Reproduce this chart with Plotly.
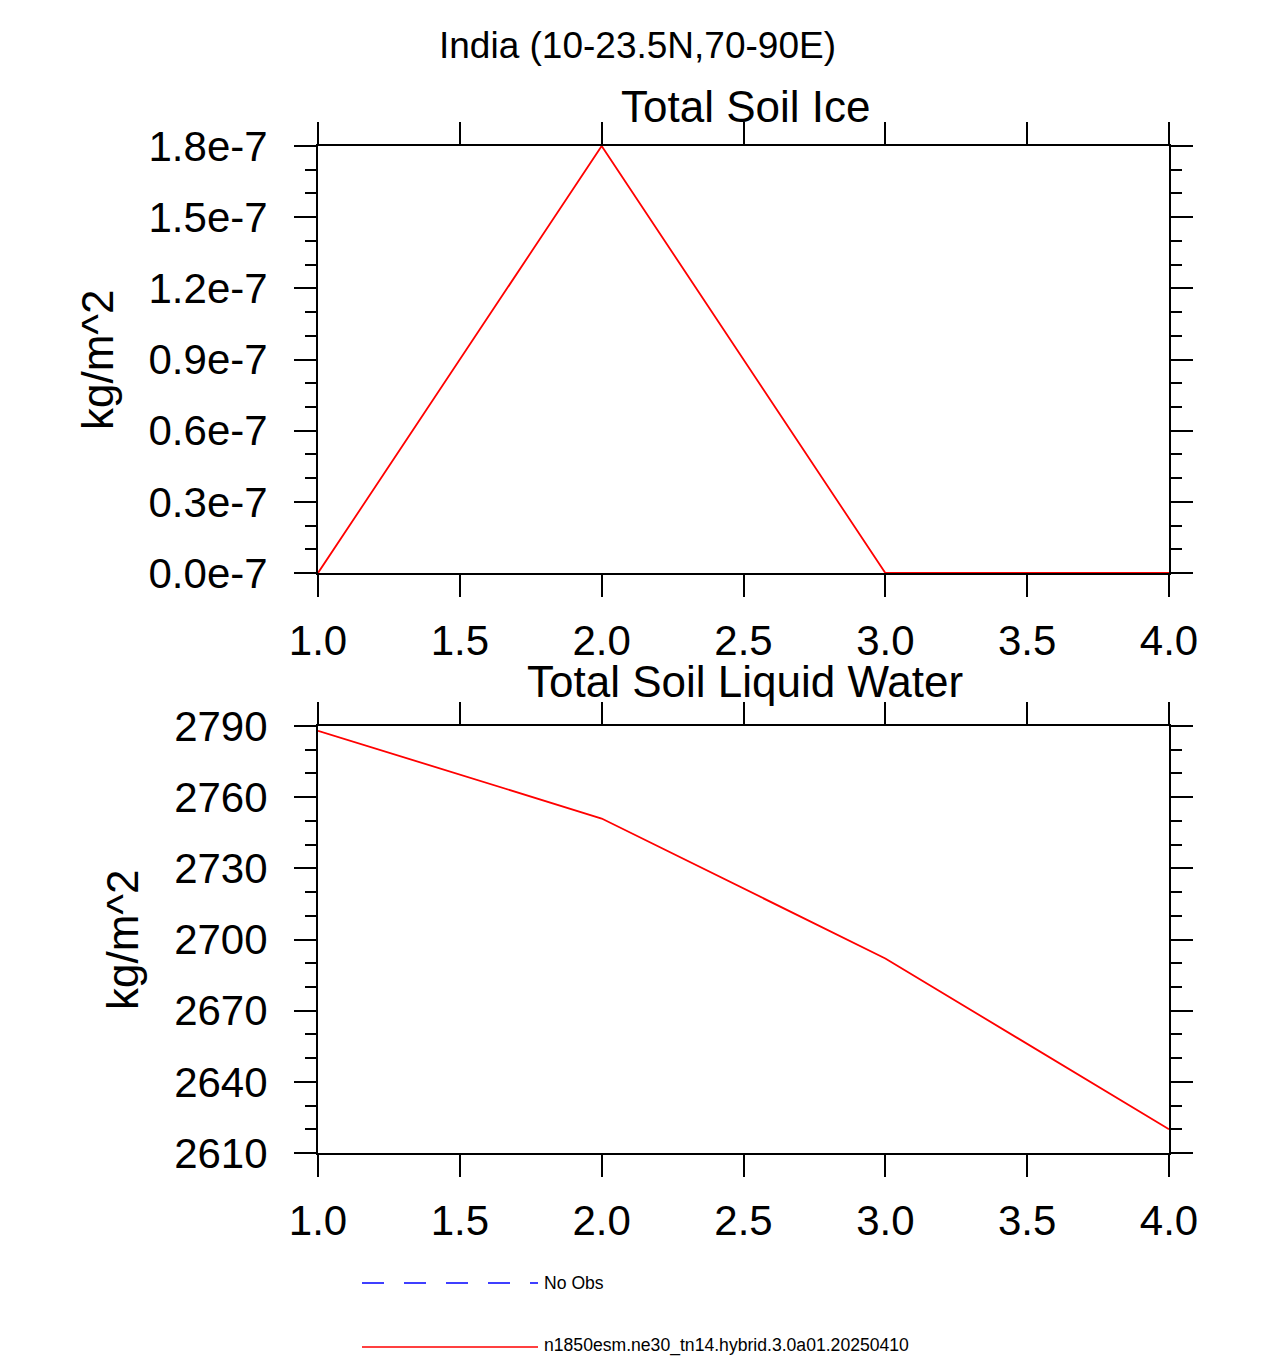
import plotly.graph_objects as go

# ---- data ----
x_vals = [1, 2, 3, 4]
soil_ice = [0.0, 1.8e-7, 0.0, 0.0]
soil_liq = [2788.0, 2751.0, 2692.0, 2620.0]

ice_tickvals = [0.0, 0.3e-7, 0.6e-7, 0.9e-7, 1.2e-7, 1.5e-7, 1.8e-7]
ice_ticktext = ["0.0e-7", "0.3e-7", "0.6e-7", "0.9e-7", "1.2e-7", "1.5e-7", "1.8e-7"]
x_tickvals = [1.0, 1.5, 2.0, 2.5, 3.0, 3.5, 4.0]
x_ticktext = ["1.0", "1.5", "2.0", "2.5", "3.0", "3.5", "4.0"]

main_title = "India (10-23.5N,70-90E)"
panel_titles = ["Total Soil Ice", "Total Soil Liquid Water"]
y_unit = "kg/m^2"
legend_labels = ["No Obs", "n1850esm.ne30_tn14.hybrid.3.0a01.20250410"]

W, H = 1275, 1356
OFF = 8  # page body margin
FONT = "Liberation Sans, Arial, Helvetica, sans-serif"

def px_x(p):
    return (p - OFF) / W

def px_y(p):
    return 1 - (p - OFF) / H

fig = go.Figure()
fig.add_trace(go.Scatter(x=x_vals, y=soil_ice, mode="lines",
                         line=dict(color="red", width=1.8),
                         xaxis="x", yaxis="y", showlegend=False))
fig.add_trace(go.Scatter(x=x_vals, y=soil_liq, mode="lines",
                         line=dict(color="red", width=1.8),
                         xaxis="x2", yaxis="y2", showlegend=False))

xdom = [px_x(318), px_x(1169)]
common_x = dict(
    range=[1, 4], tickvals=x_tickvals, ticktext=x_ticktext,
    showgrid=False, zeroline=False, showline=True, linecolor="black", linewidth=2,
    mirror="ticks", ticks="outside", ticklen=22, tickwidth=2, tickcolor="black",
    tickfont=dict(family=FONT, size=42, color="black"),
    ticklabelstandoff=8, automargin=False,
)
common_y = dict(
    showgrid=False, zeroline=False, showline=True, linecolor="black", linewidth=2,
    mirror="ticks", ticks="outside", ticklen=22, tickwidth=2, tickcolor="black",
    tickfont=dict(family=FONT, size=42, color="black"),
    ticklabelstandoff=18, automargin=False,
)

fig.update_layout(
    width=W, height=H,
    margin=dict(l=0, r=0, t=0, b=0, pad=0, autoexpand=False),
    paper_bgcolor="white", plot_bgcolor="white",
    showlegend=False,
    xaxis=dict(domain=xdom, anchor="y", **common_x),
    yaxis=dict(domain=[px_y(573), px_y(146)], anchor="x",
               range=[0, 1.8e-7], tickvals=ice_tickvals, ticktext=ice_ticktext,
               minor=dict(dtick=0.1e-7, tick0=0, ticks="outside", ticklen=11,
                          tickwidth=1.5, tickcolor="black", showgrid=False),
               **common_y),
    xaxis2=dict(domain=xdom, anchor="y2", **common_x),
    yaxis2=dict(domain=[px_y(1153), px_y(726)], anchor="x2",
                range=[2610, 2790], tick0=2610, dtick=30,
                minor=dict(dtick=10, tick0=2610, ticks="outside", ticklen=11,
                           tickwidth=1.5, tickcolor="black", showgrid=False),
                **common_y),
)

annotations = [
    dict(text=main_title, x=px_x(637), y=px_y(45), xref="paper", yref="paper",
         xanchor="center", yanchor="middle", showarrow=False,
         font=dict(family=FONT, size=37, color="black")),
    dict(text=panel_titles[0], x=px_x(745), y=px_y(107), xref="paper", yref="paper",
         xanchor="center", yanchor="middle", showarrow=False,
         font=dict(family=FONT, size=44, color="black")),
    dict(text=panel_titles[1], x=px_x(745), y=px_y(681), xref="paper", yref="paper",
         xanchor="center", yanchor="middle", showarrow=False,
         font=dict(family=FONT, size=44, color="black")),
    dict(text=y_unit, x=px_x(97), y=px_y(360), xref="paper", yref="paper",
         xanchor="center", yanchor="middle", showarrow=False, textangle=-90,
         font=dict(family=FONT, size=44, color="black")),
    dict(text=y_unit, x=px_x(122), y=px_y(940), xref="paper", yref="paper",
         xanchor="center", yanchor="middle", showarrow=False, textangle=-90,
         font=dict(family=FONT, size=44, color="black")),
    dict(text=legend_labels[0], x=px_x(542), y=px_y(1283), xref="paper", yref="paper",
         xanchor="left", yanchor="middle", showarrow=False,
         font=dict(family=FONT, size=17.6, color="black")),
    dict(text=legend_labels[1], x=px_x(542), y=px_y(1345), xref="paper", yref="paper",
         xanchor="left", yanchor="middle", showarrow=False,
         font=dict(family=FONT, size=17.6, color="black")),
]
fig.update_layout(annotations=annotations)

# legend line samples
fig.add_shape(type="line", xref="paper", yref="paper",
              x0=px_x(362), x1=px_x(538), y0=px_y(1283), y1=px_y(1283),
              line=dict(color="blue", width=1.5, dash="22px,20px"))
fig.add_shape(type="line", xref="paper", yref="paper",
              x0=px_x(362), x1=px_x(538), y0=px_y(1347), y1=px_y(1347),
              line=dict(color="red", width=1.5))

fig.write_html("out.html")
